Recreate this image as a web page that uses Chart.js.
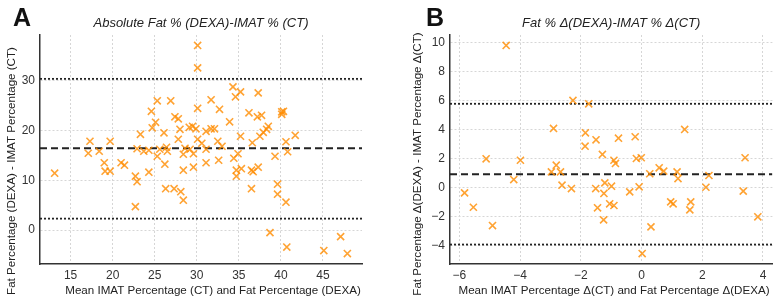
<!DOCTYPE html>
<html>
<head>
<meta charset="utf-8">
<script src="https://cdn.jsdelivr.net/npm/chart.js@4"></script>
<style>
  body { margin: 0; background: #fff; }
  .panel { position: absolute; top: 0; height: 304px; }
</style>
</head>
<body>
<div class="panel" style="left:0;width:390px"><canvas id="chartA"></canvas></div>
<div class="panel" style="left:390px;width:389px"><canvas id="chartB"></canvas></div>
<script>
// panel A: absolute values
var meanA = [13.1,17.1,17.3,18.4,19.0,19.1,19.7,19.7,21.0,21.4,22.7,22.9,22.7,22.9,23.3,23.7,24.3,24.3,24.6,24.7,
  25.1,25.3,25.3,25.6,26.1,26.2,26.3,26.4,26.5,26.9,27.3,27.4,27.8,27.8,28.0,28.1,28.4,28.4,28.4,28.6,
  29.1,29.5,29.9,29.2,29.6,29.6,30.1,30.1,30.1,30.1,30.6,31.1,31.1,31.1,31.7,32.1,31.7,32.5,32.6,32.7,
  33.0,33.9,34.3,34.6,35.2,34.4,34.9,34.7,34.7,35.3,35.2,36.2,36.5,36.7,36.5,36.6,37.2,37.7,37.3,37.3,
  37.5,37.9,38.3,38.5,38.7,39.3,39.6,39.6,40.1,40.3,40.1,40.6,40.8,40.6,40.7,41.7,45.1,47.1,47.9];
var diffA = [11.4,15.4,17.8,15.8,13.5,11.8,11.8,17.8,13.5,13.0,10.8,9.7,4.7,16.3,19.2,15.8,16.0,11.6,23.8,20.5,
  21.6,25.9,14.8,16.2,19.5,13.2,8.3,16.6,15.8,25.9,8.3,22.7,22.3,18.2,20.2,7.7,6.0,12.0,15.2,16.4,
  20.6,20.8,20.3,16.2,15.3,12.6,37.0,32.5,24.4,18.2,17.4,13.5,16.2,19.8,20.3,20.3,26.1,17.8,14.0,24.2,
  16.8,21.7,28.7,26.7,27.7,14.4,15.3,12.0,10.8,12.3,18.8,23.5,12.0,11.7,8.3,17.5,22.7,23.0,27.5,12.6,
  18.8,19.6,20.2,20.8,-0.5,14.8,9.2,7.2,23.2,23.8,23.7,17.7,15.7,5.6,-3.4,19.0,-4.1,-1.3,-4.7];
var biasA = 16.4, upperA = 30.3, lowerA = 2.3;
var xTicksA = [15,20,25,30,35,40,45];
var yTicksA = [0,10,20,30];

// panel B: changes
var meanB = [-4.46,-2.26,-1.74,-2.90,-1.85,-1.50,-1.86,-0.76,-0.21,1.42,
  -5.12,-3.99,-5.83,-5.54,-4.91,-4.21,-2.97,-2.81,-2.67,-2.62,-2.31,-1.51,-1.45,-1.29,-1.21,-1.24,-1.25,
  -1.05,-0.99,-0.91,-0.91,-0.86,-0.39,-0.17,-0.01,-0.08,0.02,0.27,0.31,0.58,0.73,0.96,1.04,1.17,1.20,
  1.62,1.59,2.12,2.22,3.35,3.41,3.83];
var diffB = [9.81,6.02,5.79,4.09,3.79,3.31,2.87,3.42,3.52,4.02,
  2.0,1.90,-0.35,-1.34,-2.60,0.57,1.10,1.56,1.10,0.18,-0.05,-0.05,-1.38,2.30,0.34,-0.39,-2.21,
  -1.10,0.11,-1.22,1.90,1.68,-0.28,2.02,2.07,0.07,-4.53,0.97,-2.69,1.38,1.15,-0.97,-1.10,1.10,0.64,
  -0.97,-1.52,0.04,0.85,-0.23,2.07,-2.00];
var biasB = 0.94, upperB = 5.79, lowerB = -3.91;
var xTicksB = [-6,-4,-2,0,2,4];
var yTicksB = [-4,-2,0,2,4,6,8,10];

var FONT = "'Liberation Sans', Arial, sans-serif";

function pts(xs, ys) {
  return xs.map(function(x, i){ return {x: x, y: ys[i]}; });
}
function hline(y, x0, x1, dash, width) {
  return {
    type: 'line', data: [{x: x0, y: y}, {x: x1, y: y}],
    borderColor: '#222', borderWidth: width, borderDash: dash,
    pointRadius: 0, fill: false
  };
}
function minusSign(v) {
  return v < 0 ? '\u2212' + Math.abs(v) : '' + v;
}

// draws panel letter, title and axis titles
var labelsPlugin = {
  id: 'panelLabels',
  afterDraw: function(chart) {
    var o = chart.options.plugins.panelLabels;
    var ctx = chart.ctx;
    ctx.save();
    ctx.fillStyle = '#111';
    ctx.textBaseline = 'middle';
    ctx.font = "bold 25px " + FONT;
    ctx.textAlign = 'left';
    ctx.fillText(o.letter, o.letterX, 19);
    ctx.fillStyle = '#222';
    ctx.font = "italic 13px " + FONT;
    ctx.textAlign = 'center';
    ctx.fillText(o.title, (chart.chartArea.left + chart.chartArea.right) / 2, 23);
    ctx.font = "11.6px " + FONT;
    ctx.fillText(o.xTitle, o.xTitleX, 291);
    ctx.translate(o.yTitleX, o.yTitleY);
    ctx.rotate(-Math.PI / 2);
    ctx.fillText(o.yTitle, 0, 0);
    ctx.restore();
  }
};

function makeChart(id, cfg) {
  var ctx = document.getElementById(id);
  var options = {};
  var data = {};
  options.type = 'scatter';
  data.datasets = [
    {
      data: pts(cfg.xs, cfg.ys),
      pointStyle: 'crossRot', pointRadius: 5, pointHoverRadius: 5,
      borderColor: 'rgba(255,140,0,0.8)', backgroundColor: 'rgba(255,140,0,0.8)',
      pointBorderWidth: 1.6
    },
    hline(cfg.bias, cfg.xMin, cfg.xMax, [7, 4], 2),
    hline(cfg.upper, cfg.xMin, cfg.xMax, [2, 2], 1.8),
    hline(cfg.lower, cfg.xMin, cfg.xMax, [2, 2], 1.8)
  ];
  options.data = data;
  var grid = {color: '#d6d6d6', lineWidth: 1, drawTicks: false};
  var border = {display: true, color: '#333', width: 1.5, dash: [2, 2]};
  var tickFont = {family: FONT, size: 12};
  options.options = {
    responsive: true,
    maintainAspectRatio: false,
    animation: false,
    layout: {padding: {top: 35, right: cfg.padRight, left: 0, bottom: 0}},
    plugins: {
      legend: {display: false},
      tooltip: {enabled: false},
      panelLabels: cfg.labels
    },
    scales: {
      x: {
        type: 'linear', min: cfg.xMin, max: cfg.xMax,
        grid: grid, border: border,
        ticks: {font: tickFont, color: '#333', padding: 4, callback: minusSign},
        afterBuildTicks: function(s){ s.ticks = cfg.xTicks.map(function(v){ return {value: v}; }); },
        afterFit: function(s){ s.height = 40; }
      },
      y: {
        type: 'linear', min: cfg.yMin, max: cfg.yMax,
        grid: grid, border: border,
        ticks: {font: tickFont, color: '#333', padding: 5, callback: minusSign},
        afterBuildTicks: function(s){ s.ticks = cfg.yTicks.map(function(v){ return {value: v}; }); },
        afterFit: function(s){ s.width = cfg.yWidth; }
      }
    }
  };
  options.plugins = [labelsPlugin];
  return new Chart(ctx, options);
}

makeChart('chartA', {
  xs: meanA, ys: diffA, bias: biasA, upper: upperA, lower: lowerA,
  xMin: 11.36, xMax: 49.64, yMin: -6.79, yMax: 39.09,
  xTicks: xTicksA, yTicks: yTicksA, padRight: 28, yWidth: 40,
  labels: {
    letter: 'A', letterX: 13,
    title: 'Absolute Fat % (DEXA)-IMAT % (CT)',
    xTitle: 'Mean IMAT Percentage (CT) and Fat Percentage (DEXA)', xTitleX: 213,
    yTitle: 'Fat Percentage (DEXA) - IMAT Percentage (CT)', yTitleX: 12, yTitleY: 171
  }
});

makeChart('chartB', {
  xs: meanB, ys: diffB, bias: biasB, upper: upperB, lower: lowerB,
  xMin: -6.31, xMax: 4.31, yMin: -5.25, yMax: 10.53,
  xTicks: xTicksB, yTicks: yTicksB, padRight: 6, yWidth: 60,
  labels: {
    letter: 'B', letterX: 36,
    title: 'Fat % \u0394(DEXA)-IMAT % \u0394(CT)',
    xTitle: 'Mean IMAT Percentage \u0394(CT) and Fat Percentage \u0394(DEXA)', xTitleX: 224,
    yTitle: 'Fat Percentage \u0394(DEXA) - IMAT Percentage \u0394(CT)', yTitleX: 28, yTitleY: 164
  }
});
</script>
</body>
</html>
